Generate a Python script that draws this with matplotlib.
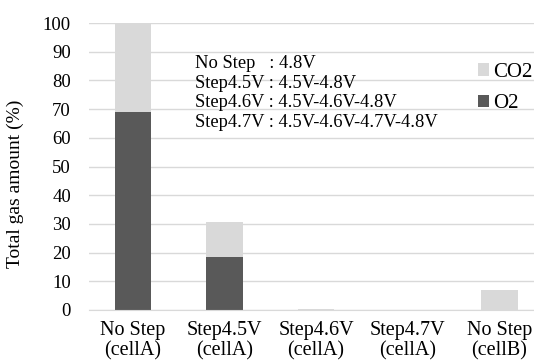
import numpy as np
import matplotlib.pyplot as plt

plt.rcParams['font.family'] = ['Liberation Serif', 'DejaVu Serif']

categories = ['No Step\n(cellA)', 'Step4.5V\n(cellA)', 'Step4.6V\n(cellA)',
              'Step4.7V\n(cellA)', 'No Step\n(cellB)']
o2 = [69.0, 18.5, 0.0, 0.0, 0.0]
co2 = [31.0, 12.0, 0.5, 0.0, 7.0]

notes = ['No Step   : 4.8V',
         'Step4.5V : 4.5V-4.8V',
         'Step4.6V : 4.5V-4.6V-4.8V',
         'Step4.7V : 4.5V-4.6V-4.7V-4.8V']

dark = '#595959'
light = '#d9d9d9'

fig = plt.figure(figsize=(5.34, 3.63), dpi=100)
ax = fig.add_axes([89 / 534, 53 / 363, 1 - 89 / 534, 287 / 363])

x = np.arange(len(categories))
ax.bar(x, o2, width=0.4, color=dark, label='O2', zorder=3)
ax.bar(x, co2, width=0.4, bottom=o2, color=light, label='CO2', zorder=3)

ax.set_xlim(-0.48, 4.38)
ax.set_ylim(0, 100)
ax.set_yticks(range(0, 101, 10))
ax.set_xticks(x)
ax.set_xticklabels(categories, fontsize=14.5, linespacing=1.05)
ax.tick_params(axis='y', length=0, pad=13, labelsize=13.5)
ax.tick_params(axis='x', length=0, pad=8)

ax.grid(axis='y', color=light, linewidth=1, zorder=0)
for s in ['top', 'right', 'left']:
    ax.spines[s].set_visible(False)
ax.spines['bottom'].set_color(light)
ax.spines['bottom'].set_zorder(4)

ax.set_ylabel('Total gas amount (%)', fontsize=14)
ax.yaxis.set_label_coords(-0.145, 0.44)

fig.text(195 / 534, 1 - 55 / 363, '\n'.join(notes), fontsize=13.3,
         va='top', ha='left', linespacing=1.2)

handles, labels = ax.get_legend_handles_labels()
leg = ax.legend(handles[::-1], labels[::-1], loc='upper left',
                bbox_to_anchor=(478 / 534, 1 - 63 / 363), bbox_transform=fig.transFigure,
                frameon=False, fontsize=15, handlelength=0.55, handleheight=0.55,
                handletextpad=0.2, labelspacing=0.6, borderaxespad=0, borderpad=0)

fig.savefig('out.png', dpi=100)
